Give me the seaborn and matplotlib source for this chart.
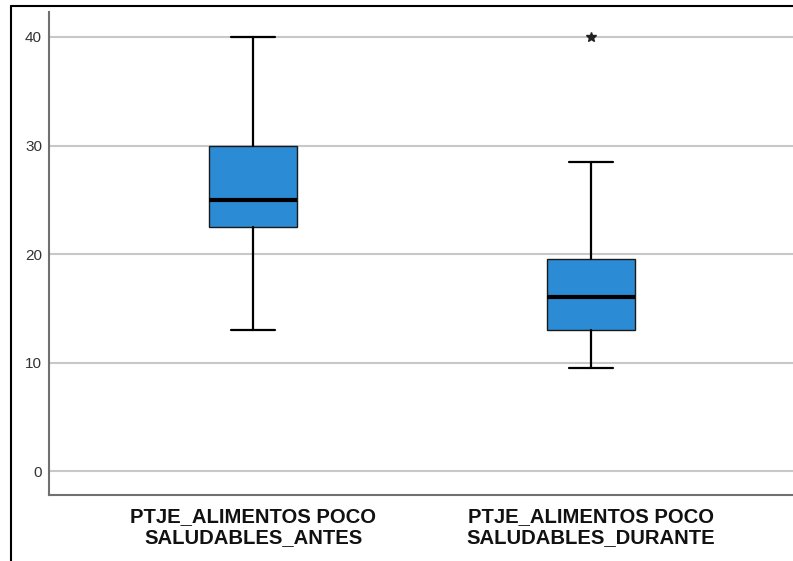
import matplotlib
matplotlib.use("Agg")
import matplotlib.pyplot as plt
from matplotlib.lines import Line2D
import seaborn as sns

# summary values
labels = ["PTJE_ALIMENTOS POCO\nSALUDABLES_ANTES", "PTJE_ALIMENTOS POCO\nSALUDABLES_DURANTE"]
whisker_low = [13, 9.5]
q1 = [22.5, 13]
median = [25, 16]
q3 = [30, 19.5]
whisker_high = [40, 28.5]
outliers = [[], [40]]

sns.set_theme(style="white")
plt.rcParams['font.family'] = ['Liberation Sans', 'DejaVu Sans']

fig = plt.figure(figsize=(7.93, 5.61), dpi=100)
ax = fig.add_axes([0.0618, 0.1176, 0.9382, 0.861])

stats = []
for i in range(len(labels)):
    stats.append({
        'whislo': whisker_low[i], 'q1': q1[i], 'med': median[i],
        'q3': q3[i], 'whishi': whisker_high[i], 'fliers': outliers[i],
        'label': labels[i],
    })

ax.bxp(stats, positions=range(len(labels)), widths=0.26, patch_artist=True,
       boxprops=dict(facecolor='#2b8bd4', edgecolor='#1a1a1a', linewidth=1),
       medianprops=dict(color='black', linewidth=3),
       whiskerprops=dict(color='black', linewidth=1.6),
       capprops=dict(color='black', linewidth=1.6),
       capwidths=0.13,
       flierprops=dict(marker='*', markersize=7, markerfacecolor='#222222',
                       markeredgecolor='#222222'))

ax.set_xlim(-0.604, 1.598)
ax.set_ylim(-2.2, 42.3)
ax.set_yticks([0, 10, 20, 30, 40])
ax.yaxis.grid(True, color='#c8c8c8', linewidth=1.5)
ax.set_axisbelow(True)
ax.tick_params(axis='both', length=0)
ax.tick_params(axis='y', labelsize=11, colors='#333333', pad=5)
ax.set_xticks(range(len(labels)))
ax.set_xticklabels(labels, fontsize=14.6, fontweight='bold', linespacing=1.12,
                   color='#111111')
ax.tick_params(axis='x', pad=9)

for side in ['top', 'right']:
    ax.spines[side].set_visible(False)
for side in ['left', 'bottom']:
    ax.spines[side].set_color('#707070')
    ax.spines[side].set_linewidth(1.5)

# screenshot frame
fig.add_artist(Line2D([11 / 793, 11 / 793], [0, 1 - 6 / 561], color='black', linewidth=1.5))
fig.add_artist(Line2D([11 / 793, 1], [1 - 6 / 561, 1 - 6 / 561], color='black', linewidth=1.5))

fig.savefig('out.png', dpi=100)
